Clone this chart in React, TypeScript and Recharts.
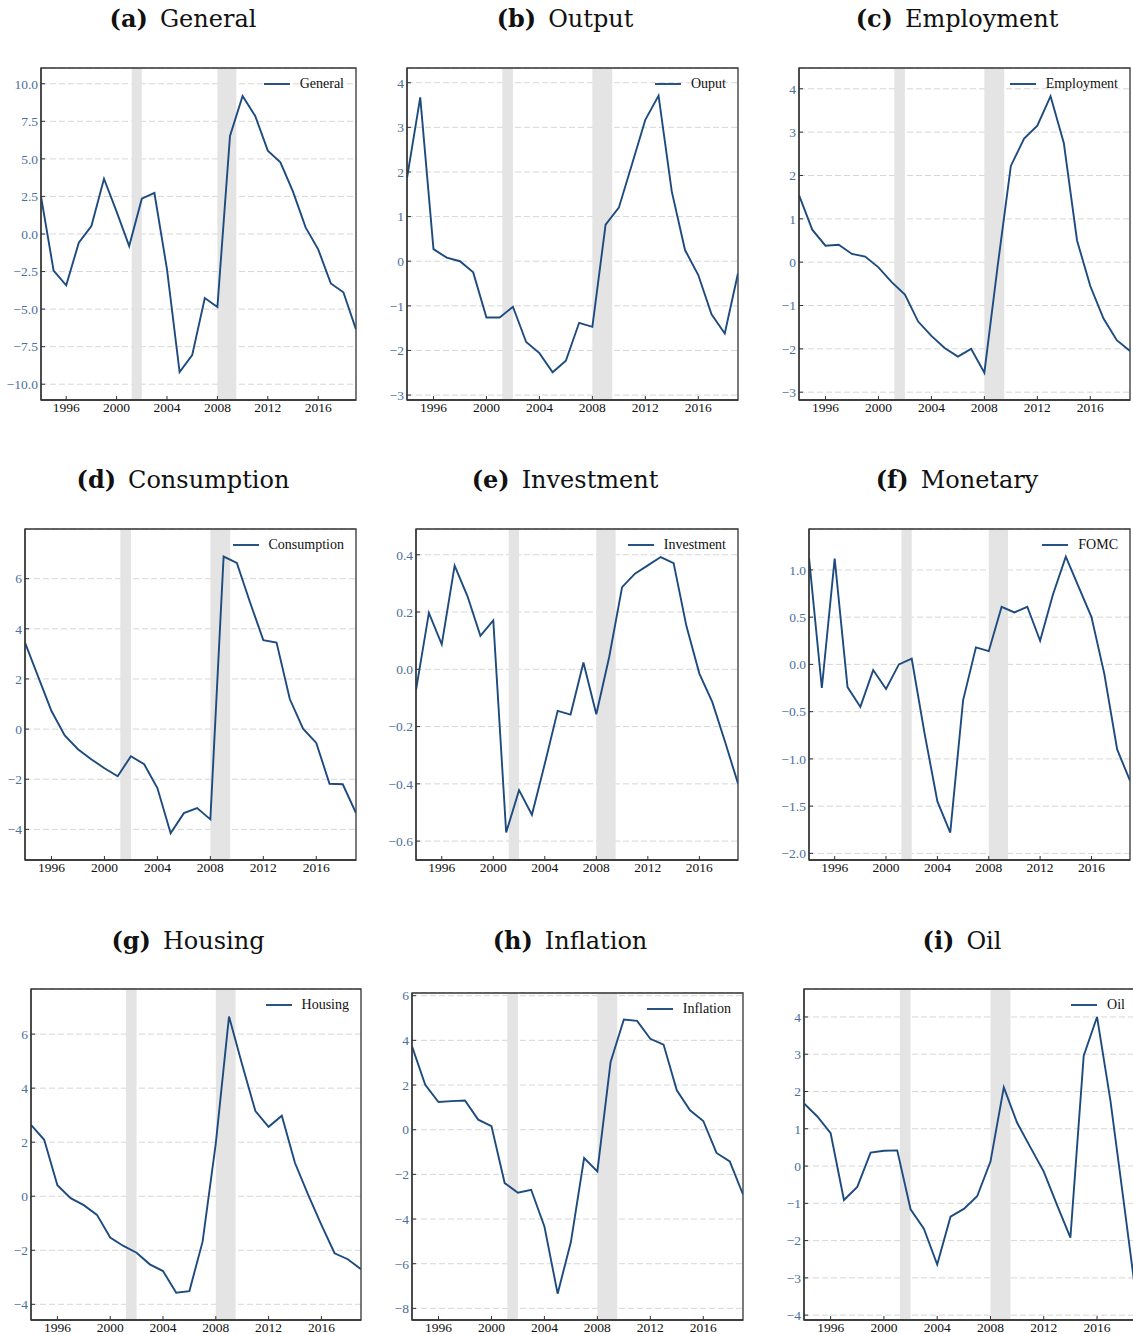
import React from 'react';
import {
  LineChart,
  Line,
  XAxis,
  YAxis,
  CartesianGrid,
  ReferenceArea,
  Legend,
} from 'recharts';

// annual observations, 1994-2019
const years = [
  1994, 1995, 1996, 1997, 1998, 1999, 2000, 2001, 2002, 2003, 2004, 2005, 2006,
  2007, 2008, 2009, 2010, 2011, 2012, 2013, 2014, 2015, 2016, 2017, 2018, 2019,
];

const general = [
  2.5, -2.44, -3.42, -0.58, 0.53, 3.68, 1.49, -0.8, 2.35, 2.73, -2.35, -9.19,
  -8.06, -4.26, -4.86, 6.53, 9.19, 7.86, 5.55, 4.77, 2.82, 0.44, -1.02, -3.29,
  -3.88, -6.35,
];
const output = [
  1.86, 3.67, 0.27, 0.08, 0.0, -0.25, -1.26, -1.26, -1.02, -1.81, -2.06, -2.49,
  -2.23, -1.38, -1.47, 0.82, 1.2, 2.18, 3.17, 3.71, 1.56, 0.25, -0.31, -1.19,
  -1.62, -0.27,
];
const employment = [
  1.55, 0.75, 0.38, 0.4, 0.19, 0.13, -0.12, -0.46, -0.75, -1.37, -1.7, -1.98,
  -2.18, -2.0, -2.55, -0.1, 2.22, 2.85, 3.15, 3.83, 2.75, 0.5, -0.55, -1.3,
  -1.8, -2.05,
];
const consumption = [
  3.45, 2.08, 0.72, -0.25, -0.8, -1.2, -1.56, -1.88, -1.08, -1.4, -2.35, -4.15,
  -3.35, -3.15, -3.6, 6.88, 6.63, 5.05, 3.55, 3.45, 1.2, 0.02, -0.55, -2.18,
  -2.2, -3.35,
];
const investment = [
  -0.073, 0.197, 0.087, 0.362, 0.255, 0.117, 0.171, -0.57, -0.422, -0.508,
  -0.33, -0.145, -0.158, 0.024, -0.157, 0.043, 0.287, 0.334, 0.363, 0.392,
  0.371, 0.15, -0.015, -0.114, -0.254, -0.399,
];
const fomc = [
  1.13, -0.25, 1.12, -0.24, -0.45, -0.06, -0.26, 0.0, 0.06, -0.73, -1.45,
  -1.78, -0.38, 0.18, 0.14, 0.61, 0.55, 0.61, 0.25, 0.74, 1.14, 0.82, 0.5,
  -0.1, -0.9, -1.23,
];
const housing = [
  2.64, 2.09, 0.41, -0.07, -0.33, -0.69, -1.53, -1.84, -2.09, -2.52, -2.77,
  -3.57, -3.51, -1.68, 1.96, 6.65, 4.87, 3.15, 2.57, 2.98, 1.23, 0.05, -1.06,
  -2.11, -2.33, -2.7,
];
const inflation = [
  3.73, 2.01, 1.24, 1.28, 1.31, 0.45, 0.16, -2.39, -2.82, -2.69, -4.33, -7.34,
  -5.03, -1.27, -1.87, 3.03, 4.93, 4.87, 4.07, 3.81, 1.76, 0.87, 0.39, -1.04,
  -1.42, -2.9,
];
const oil = [
  1.68, 1.33, 0.88, -0.91, -0.56, 0.36, 0.41, 0.42, -1.16, -1.68, -2.64, -1.36,
  -1.15, -0.81, 0.12, 2.11, 1.16, 0.5, -0.15, -1.05, -1.92, 2.96, 4.0, 1.77,
  -0.95, -3.7,
];

// recession bands (2001 and 2008-09)
const recessionStarts = [2001.2, 2008.0];
const recessionEnds = [2002.0, 2009.5];

// tick labels
const xTicks = [1996, 2000, 2004, 2008, 2012, 2016];
const generalTicks = [-10, -7.5, -5, -2.5, 0, 2.5, 5, 7.5, 10];
const outputTicks = [-3, -2, -1, 0, 1, 2, 3, 4];
const employmentTicks = [-3, -2, -1, 0, 1, 2, 3, 4];
const consumptionTicks = [-4, -2, 0, 2, 4, 6];
const investmentTicks = [-0.6, -0.4, -0.2, 0, 0.2, 0.4];
const fomcTicks = [-2, -1.5, -1, -0.5, 0, 0.5, 1];
const housingTicks = [-4, -2, 0, 2, 4, 6];
const inflationTicks = [-8, -6, -4, -2, 0, 2, 4, 6];
const oilTicks = [-4, -3, -2, -1, 0, 1, 2, 3, 4];

const rows = years.map((year, i) => ({
  year,
  general: general[i],
  output: output[i],
  employment: employment[i],
  consumption: consumption[i],
  investment: investment[i],
  fomc: fomc[i],
  housing: housing[i],
  inflation: inflation[i],
  oil: oil[i],
}));

const LINE = '#1d4b7f';
const TICK_BLUE = '#4b6f9e';
const FRAME = '#333';
const SERIF = '"Liberation Serif", "Times New Roman", serif';
const TITLE_FONT = '"DejaVu Serif", serif';

const M = { top: 5, right: 5, left: 0, bottom: 0 };
const Y_W = 50;
const X_H = 25;

const panels = [
  { letter: 'a', name: 'General', label: 'General', key: 'general', titleX: 183, titleTop: 5, left: 41, top: 68, width: 315, height: 332, domain: [-11.05, 11.05], ticks: generalTicks, dec: 1 },
  { letter: 'b', name: 'Output', label: 'Ouput', key: 'output', titleX: 565, titleTop: 5, left: 407, top: 68, width: 331, height: 332, domain: [-3.11, 4.33], ticks: outputTicks, dec: 0 },
  { letter: 'c', name: 'Employment', label: 'Employment', key: 'employment', titleX: 957, titleTop: 5, left: 799, top: 68, width: 331, height: 332, domain: [-3.18, 4.48], ticks: employmentTicks, dec: 0 },
  { letter: 'd', name: 'Consumption', label: 'Consumption', key: 'consumption', titleX: 183, titleTop: 466, left: 25, top: 529, width: 331, height: 331, domain: [-5.22, 7.98], ticks: consumptionTicks, dec: 0 },
  { letter: 'e', name: 'Investment', label: 'Investment', key: 'investment', titleX: 565, titleTop: 466, left: 416, top: 529, width: 322, height: 331, domain: [-0.666, 0.49], ticks: investmentTicks, dec: 1 },
  { letter: 'f', name: 'Monetary', label: 'FOMC', key: 'fomc', titleX: 957, titleTop: 466, left: 809, top: 529, width: 321, height: 331, domain: [-2.07, 1.433], ticks: fomcTicks, dec: 1 },
  { letter: 'g', name: 'Housing', label: 'Housing', key: 'housing', titleX: 188, titleTop: 927, left: 31, top: 989, width: 330, height: 331, domain: [-4.58, 7.67], ticks: housingTicks, dec: 0 },
  { letter: 'h', name: 'Inflation', label: 'Inflation', key: 'inflation', titleX: 570, titleTop: 927, left: 412, top: 993, width: 331, height: 327, domain: [-8.52, 6.12], ticks: inflationTicks, dec: 0 },
  { letter: 'i', name: 'Oil', label: 'Oil', key: 'oil', titleX: 962, titleTop: 927, left: 804, top: 989, width: 333, height: 331, domain: [-4.13, 4.75], ticks: oilTicks, dec: 0 },
];

const fmt = (dec: number) => (v: number) => v.toFixed(dec).replace('-', '\u2212');

function Panel({ p }: { p: any }) {
  const w = p.width + Y_W + M.left + M.right;
  const h = p.height + M.top + X_H;

  const renderLegend = () => (
    <div style={{ display: 'flex', alignItems: 'center', height: 18 }}>
      <svg width={26} height={4} style={{ marginRight: 10 }}>
        <line x1={0} y1={2} x2={26} y2={2} stroke={LINE} strokeWidth={1.9} />
      </svg>
      <span style={{ fontFamily: SERIF, fontSize: 14, color: '#111' }}>{p.label}</span>
    </div>
  );

  return (
    <>
      <div
        style={{
          position: 'absolute',
          left: p.titleX - 250,
          top: p.titleTop,
          width: 500,
          textAlign: 'center',
          fontFamily: TITLE_FONT,
          fontSize: 24,
          lineHeight: '28px',
          color: '#111',
          whiteSpace: 'nowrap',
        }}
      >
        <b style={{ marginRight: 12 }}>({p.letter})</b>
        {p.name}
      </div>
      <div style={{ position: 'absolute', left: p.left - Y_W - M.left, top: p.top - M.top }}>
        <LineChart width={w} height={h} data={rows} margin={M}>
          {recessionStarts.map((s, i) => (
            <ReferenceArea
              key={`rec-${i}`}
              x1={s}
              x2={recessionEnds[i]}
              fill="#e4e4e4"
              fillOpacity={1}
              stroke="none"
              ifOverflow="hidden"
            />
          ))}
          <CartesianGrid vertical={false} stroke="#d2d2d2" strokeDasharray="6 3" strokeWidth={0.9} />
          <XAxis
            dataKey="year"
            type="number"
            domain={[1994, 2019]}
            allowDataOverflow
            ticks={xTicks}
            interval={0}
            height={X_H}
            tickSize={-4}
            tickMargin={6}
            tickLine={{ stroke: FRAME }}
            axisLine={{ stroke: FRAME, strokeWidth: 1.3 }}
            tick={{ fill: '#111', fontSize: 13.5, fontFamily: SERIF }}
          />
          <YAxis
            type="number"
            domain={p.domain}
            allowDataOverflow
            ticks={p.ticks}
            interval={0}
            width={Y_W}
            tickSize={-4}
            tickMargin={7}
            tickFormatter={fmt(p.dec)}
            tickLine={{ stroke: FRAME }}
            axisLine={{ stroke: FRAME, strokeWidth: 1.3 }}
            tick={{ fill: TICK_BLUE, fontSize: 13.5, fontFamily: SERIF }}
          />
          <YAxis
            yAxisId="right"
            orientation="right"
            type="number"
            domain={p.domain}
            allowDataOverflow
            ticks={p.ticks}
            interval={0}
            width={0}
            tickSize={-4}
            tick={false}
            tickLine={{ stroke: FRAME }}
            axisLine={false}
          />
          <Legend
            layout="horizontal"
            align="center"
            verticalAlign="middle"
            content={renderLegend}
            wrapperStyle={{ top: M.top + 7, right: M.right + 12, left: 'auto', bottom: 'auto', width: 'auto' }}
          />
          <Line
            type="linear"
            dataKey={p.key}
            stroke={LINE}
            strokeWidth={1.9}
            dot={false}
            isAnimationActive={false}
          />
          {/* plot frame */}
          <ReferenceArea
            x1={1994}
            x2={2019}
            y1={p.domain[0]}
            y2={p.domain[1]}
            fill="none"
            stroke={FRAME}
            strokeWidth={1.3}
            ifOverflow="visible"
          />
        </LineChart>
      </div>
    </>
  );
}

export default function App() {
  return (
    <div
      style={{
        position: 'absolute',
        left: 0,
        top: 0,
        width: 1133,
        height: 1334,
        overflow: 'hidden',
        background: '#fff',
      }}
    >
      {panels.map((p) => (
        <Panel key={p.key} p={p} />
      ))}
    </div>
  );
}
